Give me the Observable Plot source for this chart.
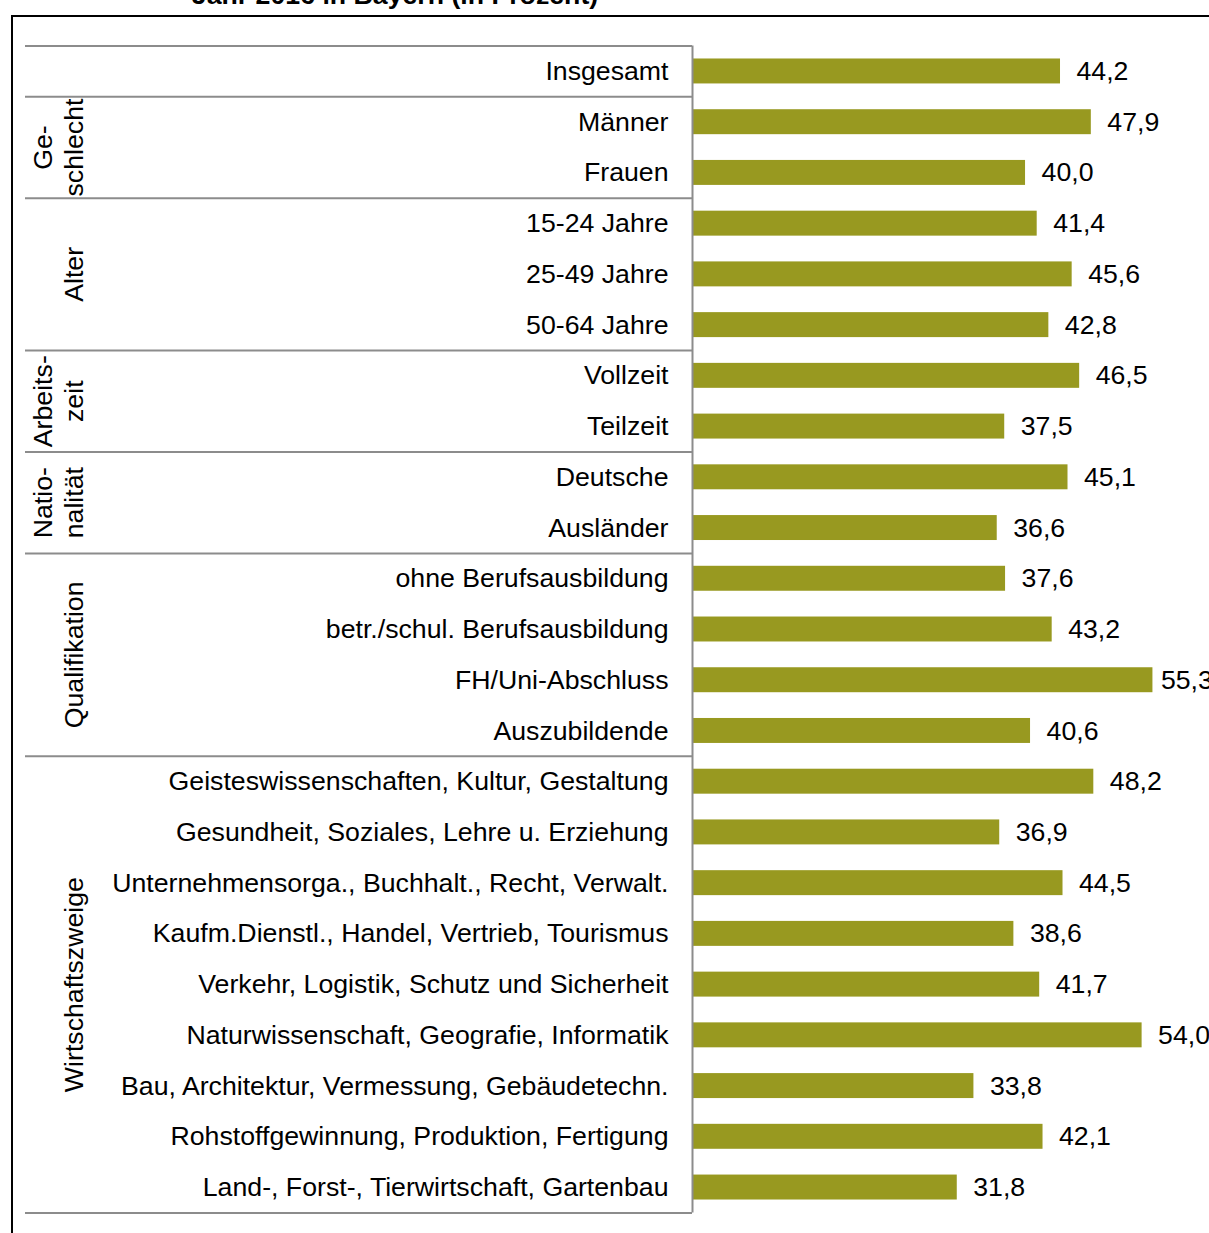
<!DOCTYPE html>
<html><head><meta charset="utf-8">
<script src="https://cdn.jsdelivr.net/npm/d3@7"></script>
<script src="https://cdn.jsdelivr.net/npm/@observablehq/plot@0.6"></script>
<style>
html,body{margin:0;padding:0;background:#fff;overflow:hidden;width:1209px;height:1233px;}
#wrap{position:relative;width:1209px;height:1233px;overflow:hidden;}
#title{position:absolute;left:0;top:-18px;width:790px;text-align:center;font:bold 26.7px/26px "Liberation Sans",Arial,sans-serif;white-space:nowrap;color:#000;}
#frame{position:absolute;left:11px;top:15px;width:1400px;height:1400px;border:2px solid #000;pointer-events:none;}
#chart{position:absolute;left:0;top:0;}
</style></head>
<body><div id="wrap"><div id="title"></div><div id="chart"></div><div id="frame"></div></div>
<script>
// ---- data ----
const titleText = "Jahr 2016 in Bayern (in Prozent)";
const categories = ["Insgesamt","Männer","Frauen","15-24 Jahre","25-49 Jahre","50-64 Jahre","Vollzeit","Teilzeit","Deutsche","Ausländer","ohne Berufsausbildung","betr./schul. Berufsausbildung","FH/Uni-Abschluss","Auszubildende","Geisteswissenschaften, Kultur, Gestaltung","Gesundheit, Soziales, Lehre u. Erziehung","Unternehmensorga., Buchhalt., Recht, Verwalt.","Kaufm.Dienstl., Handel, Vertrieb, Tourismus","Verkehr, Logistik, Schutz und Sicherheit","Naturwissenschaft, Geografie, Informatik","Bau, Architektur, Vermessung, Gebäudetechn.","Rohstoffgewinnung, Produktion, Fertigung","Land-, Forst-, Tierwirtschaft, Gartenbau"];
const values = [44.2,47.9,40.0,41.4,45.6,42.8,46.5,37.5,45.1,36.6,37.6,43.2,55.3,40.6,48.2,36.9,44.5,38.6,41.7,54.0,33.8,42.1,31.8];
const groupNames = ["", "Ge-\nschlecht", "Alter", "Arbeits-\nzeit", "Natio-\nnalität", "Qualifikation", "Wirtschaftszweige"];
const groupSizes = [1,2,3,2,2,4,9];

// ---- layout ----
const W = 1209, H = 1233, X0 = 692, PX = 8.326;
const px = p => (p - X0) / PX;
const fmt = v => v.toFixed(1).replace(".", ",");
const FONT = '"Liberation Sans", Arial, sans-serif';
const FS = 26.7;
const LINE = "#8c8c8c";

document.getElementById("title").textContent = titleText;

const rows = categories.map((c, i) => ({i, c, v: values[i]}));
let start = 0;
const groupRows = [];
const bounds = [-0.5];
groupNames.forEach((g, k) => {
  const n = groupSizes[k];
  groupRows.push({g, mid: start + (n - 1) / 2});
  start += n;
  bounds.push(start - 0.5);
});
// labels that would run past the right edge are nudged closer to their bar (as in the source)
const fits = d => X0 + d.v * PX + 16 + 52 <= W + 4;

const chart = Plot.plot({
  width: W, height: H,
  marginLeft: 0, marginRight: 0, marginTop: 45.6, marginBottom: 20.6,
  x: {domain: [px(0), px(W)], axis: null},
  y: {domain: [-0.5, categories.length - 0.5], reverse: true, axis: null},
  style: {fontFamily: FONT, fontSize: FS + "px", background: "transparent", color: "#000"},
  marks: [
    Plot.rect(rows, {x1: 0, x2: "v", y1: d => d.i - 0.246, y2: d => d.i + 0.246, fill: "#989920"}),
    Plot.ruleY(bounds, {x1: px(25), x2: 0, stroke: LINE, strokeWidth: 2}),
    Plot.ruleX([0], {y1: -0.5, y2: categories.length - 0.5, stroke: LINE, strokeWidth: 2}),
    Plot.text(rows, {x: 0, y: "i", text: "c", textAnchor: "end", dx: -24, fontSize: FS, fill: "#000"}),
    Plot.text(rows.filter(fits), {x: "v", y: "i", text: d => fmt(d.v), textAnchor: "start", dx: 16, fontSize: FS, fill: "#000"}),
    Plot.text(rows.filter(d => !fits(d)), {x: "v", y: "i", text: d => fmt(d.v), textAnchor: "start", dx: 8, fontSize: FS, fill: "#000"}),
    Plot.text(groupRows.filter(d => d.g), {x: px(82), y: "mid", text: "g", rotate: -90, lineAnchor: "bottom", lineHeight: 1.16, textAnchor: "middle", fontSize: FS, fill: "#000"})
  ]
});
document.getElementById("chart").appendChild(chart);
</script></body></html>
